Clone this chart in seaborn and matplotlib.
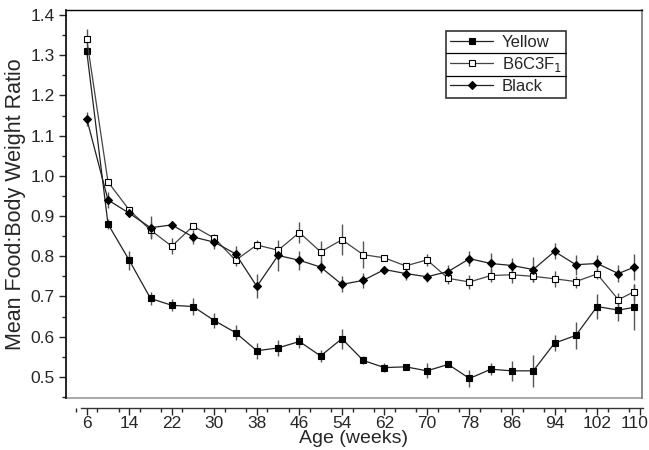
import matplotlib
matplotlib.use("Agg")
import matplotlib.pyplot as plt
import matplotlib.transforms as mtrans
import seaborn as sns
import numpy as np
import pandas as pd
from matplotlib.ticker import MultipleLocator
from matplotlib.lines import Line2D

weeks = [6, 10, 14, 18, 22, 26, 30, 34, 38, 42, 46, 50, 54, 58, 62, 66, 70,
         74, 78, 82, 86, 90, 94, 98, 102, 106, 109]

yellow = [1.31, 0.88, 0.79, 0.695, 0.678, 0.675, 0.64, 0.61, 0.565, 0.572,
          0.588, 0.552, 0.595, 0.541, 0.523, 0.525, 0.515, 0.531, 0.496,
          0.519, 0.515, 0.515, 0.584, 0.603, 0.675, 0.666, 0.673]
yellow_err = [0.01, 0.012, 0.023, 0.017, 0.015, 0.02, 0.019, 0.019, 0.02,
              0.019, 0.015, 0.015, 0.025, 0.01, 0.012, 0.005, 0.019, 0.005,
              0.022, 0.015, 0.025, 0.039, 0.02, 0.033, 0.031, 0.027, 0.057]

b6 = [1.34, 0.985, 0.915, 0.865, 0.825, 0.875, 0.845, 0.79, 0.828, 0.815,
      0.859, 0.811, 0.841, 0.804, 0.796, 0.776, 0.791, 0.745, 0.736, 0.752,
      0.754, 0.75, 0.744, 0.737, 0.756, 0.692, 0.712]
b6_err = [0.025, 0.008, 0.008, 0.02, 0.02, 0.008, 0.01, 0.015, 0.012, 0.01,
          0.026, 0.027, 0.038, 0.033, 0.008, 0.008, 0.015, 0.015, 0.017,
          0.017, 0.02, 0.015, 0.02, 0.015, 0.013, 0.017, 0.02]

black = [1.142, 0.94, 0.907, 0.871, 0.878, 0.848, 0.835, 0.806, 0.725, 0.802,
         0.79, 0.773, 0.73, 0.74, 0.767, 0.757, 0.749, 0.762, 0.794, 0.782,
         0.777, 0.767, 0.812, 0.779, 0.782, 0.757, 0.773]
black_err = [0.017, 0.02, 0.01, 0.029, 0.01, 0.017, 0.017, 0.02, 0.03, 0.038,
             0.023, 0.015, 0.02, 0.019, 0.008, 0.017, 0.012, 0.017, 0.019,
             0.025, 0.019, 0.03, 0.02, 0.025, 0.022, 0.022, 0.033]

series = ["Yellow", "B6C3F$_1$", "Black"]

sns.set_style("ticks")
plt.rcParams['font.family'] = ['Liberation Sans', 'DejaVu Sans']

fig = plt.figure(figsize=(6.49, 4.5), dpi=100)
ax = fig.add_axes([0.1017, 0.1156, 0.8871, 0.8622])

styles = [
    dict(vals=yellow, err=yellow_err, marker='s', mfc='black', ms=4.6, lc='#222222'),
    dict(vals=b6, err=b6_err, marker='s', mfc='white', ms=5.0, lc='#444444'),
    dict(vals=black, err=black_err, marker='D', mfc='black', ms=4.0, lc='#222222'),
]

for name, st in zip(series, styles):
    df = pd.DataFrame({"week": weeks, "ratio": st["vals"], "err": st["err"]})
    ax.vlines(df["week"], df["ratio"] - df["err"], df["ratio"] + df["err"],
              color='#555555', lw=1.0, zorder=2)
    sns.lineplot(data=df, x="week", y="ratio", ax=ax, color=st["lc"], lw=0.9,
                 marker=st["marker"], markersize=st["ms"],
                 markerfacecolor=st["mfc"], markeredgecolor='black',
                 markeredgewidth=0.8, label=name, zorder=3)

ax.set_xlim(2.1, 110.4)
ax.set_ylim(0.4475, 1.4125)
ax.yaxis.set_major_locator(MultipleLocator(0.1))
ax.yaxis.set_minor_locator(MultipleLocator(0.05))
ax.yaxis.set_major_formatter(matplotlib.ticker.FormatStrFormatter('%.1f'))

for s in ax.spines.values():
    s.set_visible(True)
ax.spines['left'].set_color('black')
ax.spines['left'].set_linewidth(1.2)
ax.spines['top'].set_color('black')
ax.spines['top'].set_linewidth(1.0)
ax.spines['right'].set_color('#777777')
ax.spines['right'].set_linewidth(1.2)
ax.spines['bottom'].set_visible(False)

# box bottom line (gray) and offset x axis
ax.axhline(0.4475, color='#aaaaaa', lw=1.5, clip_on=False)
ax2 = ax.twiny()
ax2.set_xlim(ax.get_xlim())
ax2.xaxis.set_ticks_position('bottom')
ax2.xaxis.set_label_position('bottom')
for k in ['top', 'left', 'right']:
    ax2.spines[k].set_visible(False)
ax2.spines['bottom'].set_position(('outward', 7))
ax2.spines['bottom'].set_bounds(4.9, 110.6)
ax2.spines['bottom'].set_color('#333333')
ax2.spines['bottom'].set_linewidth(1.0)
ax2.set_xticks(np.arange(6, 111, 8))
ax2.xaxis.set_minor_locator(MultipleLocator(4))
ax2.tick_params(axis='x', which='major', length=5, width=1, labelsize=12.5, pad=1)
ax2.tick_params(axis='x', which='minor', length=3, width=1)
ax2.set_xlabel("Age (weeks)", fontsize=14, labelpad=-1)
ax.set_xticks([])
ax.xaxis.set_minor_locator(matplotlib.ticker.NullLocator())
ax.set_xlabel("")

ax.tick_params(axis='y', which='major', length=5, width=1, labelsize=12.5, pad=3)
ax.tick_params(axis='y', which='minor', length=3, width=1)
ax.set_ylabel("Mean Food:Body Weight Ratio", fontsize=15.5, labelpad=3)

leg = ax.legend(loc='upper left', bbox_to_anchor=(0.66, 0.946), frameon=True,
                fancybox=False, edgecolor='black', fontsize=12,
                handlelength=2.6, handletextpad=0.5, borderpad=0.25,
                labelspacing=0.3, borderaxespad=0)
leg.get_frame().set_linewidth(1.2)
for h in leg.get_lines():
    h.set_linewidth(0.9)

fig.canvas.draw()
# keep the last tick label ("110") inside the canvas
last = ax2.get_xticklabels()[-1]
last.set_transform(last.get_transform() +
                   mtrans.ScaledTranslation(-5 / 100, 0, fig.dpi_scale_trans))

bb = leg.get_window_extent().transformed(fig.transFigure.inverted())
n = len(series)
for i in range(1, n):
    yy = bb.y0 + bb.height * i / n
    fig.add_artist(Line2D([bb.x0, bb.x1], [yy, yy], color='black', lw=0.9,
                          transform=fig.transFigure))

fig.savefig("out.png", dpi=100)
